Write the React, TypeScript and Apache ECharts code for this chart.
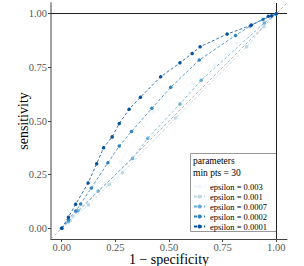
import React, { useEffect, useRef } from "react";
import * as echarts from "echarts";

const seriesNames = ["epsilon = 0.003", "epsilon = 0.001", "epsilon = 0.0007", "epsilon = 0.0002", "epsilon = 0.0001"];
const seriesColors = ["#EFF3FF", "#BDD7E7", "#6BAED6", "#3182BD", "#08519C"];

const fpr003 = [0, 0.05, 0.153, 0.273, 0.43, 0.608, 0.714, 0.814, 1];
const tpr003 = [0, 0.05, 0.157, 0.31, 0.544, 0.676, 0.761, 0.862, 1];
const fpr001 = [0, 0.04, 0.124, 0.221, 0.283, 0.531, 0.862, 0.942, 1];
const tpr001 = [0, 0.035, 0.109, 0.204, 0.259, 0.514, 0.846, 0.939, 1];
const fpr0007 = [0, 0.031, 0.076, 0.17, 0.33, 0.401, 0.551, 0.65, 0.944, 1];
const tpr0007 = [0, 0.031, 0.082, 0.174, 0.325, 0.42, 0.579, 0.69, 0.957, 1];
const fpr0002 = [0, 0.031, 0.065, 0.088, 0.138, 0.215, 0.268, 0.325, 0.42, 0.508, 0.641, 0.81, 0.879, 0.938, 1];
const tpr0002 = [0, 0.04, 0.081, 0.113, 0.188, 0.305, 0.383, 0.451, 0.559, 0.657, 0.784, 0.899, 0.943, 0.973, 1];
const fpr0001 = [0, 0.031, 0.065, 0.123, 0.163, 0.195, 0.235, 0.268, 0.314, 0.367, 0.461, 0.551, 0.608, 0.645, 0.771, 0.884, 0.963, 0.978, 1];
const tpr0001 = [0, 0.051, 0.112, 0.211, 0.301, 0.375, 0.426, 0.488, 0.555, 0.611, 0.706, 0.771, 0.815, 0.846, 0.905, 0.947, 0.988, 0.99, 1];

const fprs = [fpr003, fpr001, fpr0007, fpr0002, fpr0001];
const tprs = [tpr003, tpr001, tpr0007, tpr0002, tpr0001];

const tickValues = [0, 0.25, 0.5, 0.75, 1];
const diagonal = [[-0.05, -0.05], [1.05, 1.05]];
const refLines = [1];

const FONT = "Liberation Serif";

export default function App() {
  const ref = useRef<HTMLDivElement>(null);
  useEffect(() => {
    if (!ref.current) return;
    const chart = echarts.init(ref.current, null, { renderer: "svg" });
    const axisCommon = {
      type: "value",
      min: -0.05,
      max: 1.05,
      splitLine: { show: false },
      axisTick: { show: true, length: 3, customValues: tickValues, lineStyle: { color: "#444", width: 1 } },
      axisLabel: {
        customValues: tickValues,
        formatter: (v: number) => v.toFixed(2),
        fontFamily: FONT,
        fontSize: 10.5,
        color: "#555",
      },
      nameLocation: "middle",
      nameMoveOverlap: false,
      nameTextStyle: { fontFamily: FONT, fontSize: 14, color: "#000" },
    };
    const lineSeries = seriesNames.map((name, i) => ({
      name,
      type: "line",
      data: fprs[i].map((x, j) => [x, tprs[i][j]]),
      symbol: "circle",
      symbolSize: 3.5,
      itemStyle: { color: seriesColors[i] },
      lineStyle: { color: seriesColors[i], width: 0.8, type: [3, 2] },
      z: 3 + i,
    }));
    chart.setOption({
      animation: false,
      grid: { left: 51, right: 17, top: 3, bottom: 27, containLabel: false, outerBoundsMode: "none" },
      xAxis: {
        ...axisCommon,
        name: "1 \u2212 specificity",
        nameGap: 13,
        axisLine: { show: true, onZero: false, lineStyle: { color: "#444", width: 1 } },
        axisLabel: { ...axisCommon.axisLabel, margin: 3 },
      },
      yAxis: {
        ...axisCommon,
        name: "sensitivity",
        nameGap: 21,
        axisLine: { show: true, onZero: false, lineStyle: { color: "#a0a0a0", width: 2 } },
        axisLabel: { ...axisCommon.axisLabel, margin: 4 },
      },
      legend: {
        data: seriesNames,
        orient: "vertical",
        left: 193,
        top: 182,
        itemWidth: 11,
        itemHeight: 5,
        itemGap: 1,
        textStyle: { fontFamily: FONT, fontSize: 8.5, lineHeight: 8, color: "#000" },
        padding: 0,
      },
      graphic: [
        {
          type: "rect",
          shape: { x: 190.5, y: 153.5, width: 86, height: 78 },
          style: { fill: "#fff", stroke: "#999", lineWidth: 1 },
          z: 1,
        },
        {
          type: "text",
          x: 193,
          y: 156,
          style: { text: "parameters", font: `9.5px '${FONT}'`, fill: "#000" },
          z: 2,
        },
        {
          type: "text",
          x: 193,
          y: 168,
          style: { text: "min pts = 30", font: `9.5px '${FONT}'`, fill: "#000" },
          z: 2,
        },
      ],
      series: [
        {
          type: "line",
          data: diagonal,
          symbol: "none",
          silent: true,
          lineStyle: { color: "#bbbbbb", width: 1, type: [3, 2] },
          z: 2,
          markLine: {
            silent: true,
            symbol: "none",
            label: { show: false },
            lineStyle: { color: "#222", width: 1, type: "solid" },
            data: [{ xAxis: refLines[0] }, { yAxis: refLines[0] }],
          },
        },
        ...lineSeries,
      ],
    });
    return () => chart.dispose();
  }, []);
  return <div ref={ref} style={{ position: "absolute", left: 0, top: 0, width: 304, height: 266 }} />;
}
